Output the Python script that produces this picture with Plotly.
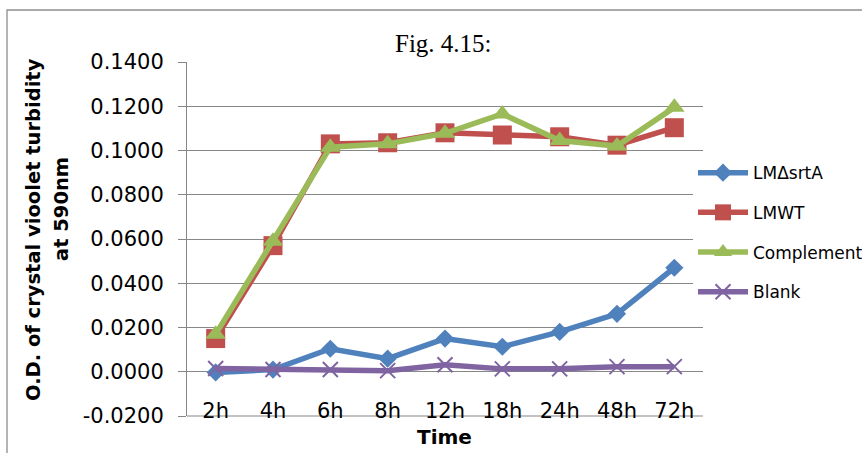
import plotly.graph_objects as go

# Sampling times and optical density readings (O.D. at 590 nm)
times = ["2h", "4h", "6h", "8h", "12h", "18h", "24h", "48h", "72h"]
lm_delta_srta = [-0.0003, 0.0010, 0.0104, 0.0059, 0.0150, 0.0113, 0.0180, 0.0262, 0.0470]
lm_wt = [0.0150, 0.0570, 0.1030, 0.1035, 0.1080, 0.1070, 0.1062, 0.1024, 0.1103]
complement = [0.0170, 0.0590, 0.1015, 0.1030, 0.1078, 0.1165, 0.1045, 0.1020, 0.1195]
blank = [0.0015, 0.0010, 0.0010, 0.0005, 0.0032, 0.0013, 0.0013, 0.0023, 0.0023]

y_ticks = [-0.02, 0.0, 0.02, 0.04, 0.06, 0.08, 0.10, 0.12, 0.14]
y_tick_text = [f"{v:.4f}" for v in y_ticks]

GRID = "#878787"
SANS = "DejaVu Sans"

series = [
    ("LMΔsrtA", lm_delta_srta, "#4F81BD", "diamond", 14, None),
    ("LMWT", lm_wt, "#C0504D", "square", 19, None),
    ("Complement", complement, "#9BBB59", "triangle-up", 18, None),
    ("Blank", blank, "#8064A2", "x-thin", 15, 2),
]

fig = go.Figure()
for i, (name, vals, color, sym, size, mlw) in enumerate(series):
    marker = dict(symbol=sym, size=size, color=color)
    if mlw:
        marker["line"] = dict(color=color, width=mlw)
    fig.add_trace(go.Scatter(
        x=times, y=vals, name=name, mode="lines+markers",
        line=dict(color=color, width=5.5),
        marker=marker,
        legendgroup=f"g{i}",
    ))

fig.update_layout(
    width=862, height=453,
    margin=dict(l=187, r=159, t=62, b=37, autoexpand=False),
    paper_bgcolor="white", plot_bgcolor="white",
    font=dict(family=SANS, color="black"),
    showlegend=True,
    legend=dict(
        x=(693 - 187) / 516, xanchor="left", y=0.737, yanchor="top",
        bgcolor="white", borderwidth=0,
        font=dict(family=SANS, size=17),
        tracegroupgap=14.6, itemwidth=50,
    ),
    xaxis=dict(
        type="category", range=[-0.5, 8.5],
        showgrid=False, zeroline=False, showline=False,
        anchor="free", position=(416 - 396) / 354,
        ticks="",
        tickfont=dict(family=SANS, size=21),
    ),
    yaxis=dict(
        range=[-0.02, 0.14], tickvals=y_ticks, ticktext=y_tick_text,
        showgrid=True, gridcolor=GRID, gridwidth=1,
        zeroline=False,
        showline=True, linecolor=GRID, linewidth=1,
        ticks="outside", ticklen=8, tickcolor=GRID, tickwidth=1,
        tickfont=dict(family=SANS, size=21),
        ticklabelstandoff=10,
    ),
    shapes=[
        # outer chart frame
        dict(type="rect", xref="paper", yref="paper",
             x0=-0.3488, x1=1.32, y0=-0.12, y1=1.1469,
             line=dict(color="#8E8E8E", width=1.3), fillcolor="rgba(0,0,0,0)"),
        # category axis line along the bottom of the plot
        dict(type="line", xref="paper", yref="paper",
             x0=0, x1=1, y0=0, y1=0, layer="below",
             line=dict(color=GRID, width=1)),
    ],
    annotations=[
        dict(text="Fig. 4.15:", xref="paper", yref="paper",
             x=(443 - 187) / 516, y=(416 - 44) / 354, xanchor="center", yanchor="middle",
             showarrow=False, font=dict(family="Liberation Serif", size=25, color="black")),
        dict(text="<b>O.D. of crystal vioolet turbidity</b>", xref="paper", yref="paper",
             x=(34 - 187) / 516, y=(416 - 230) / 354, xanchor="center", yanchor="middle",
             textangle=-90, showarrow=False, font=dict(family=SANS, size=19.5, color="black")),
        dict(text="<b>at 590nm</b>", xref="paper", yref="paper",
             x=(61 - 187) / 516, y=(416 - 209) / 354, xanchor="center", yanchor="middle",
             textangle=-90, showarrow=False, font=dict(family=SANS, size=19.5, color="black")),
        dict(text="<b>Time</b>", xref="paper", yref="paper",
             x=(444 - 187) / 516, y=(416 - 437) / 354, xanchor="center", yanchor="middle",
             showarrow=False, font=dict(family=SANS, size=20, color="black")),
    ],
)

fig.write_html("out.html")
